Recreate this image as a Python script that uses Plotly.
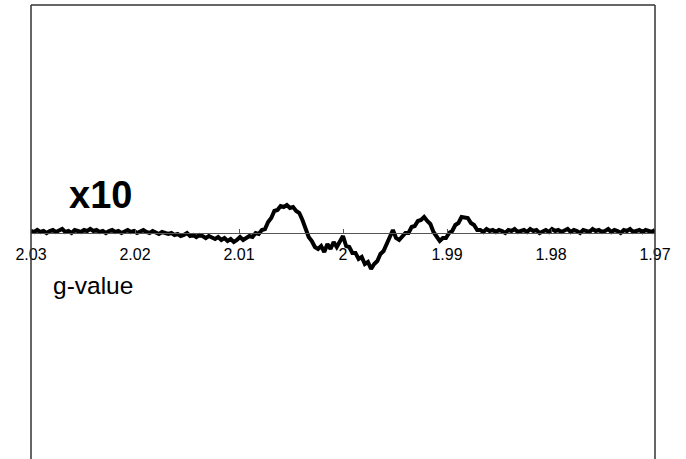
import numpy as np
import plotly.graph_objects as go

# EPR derivative signal (x10 gain), sampled uniformly from g = 2.03 down to g = 1.97
signal = [
    2, 1, 3, 1, 2, 0, 2, 3, 1, 2, 4, 1, 2, 0, 3, 2, 1, 3, 2, 4, 2, 3, 1,
    2, 0, 2, 3, 1, 2, 0, 1, 3, 1, 2, 0, 1, 3, 1, 0, 2, 1, -1, 1, 0, -1, 0,
    -2, -1, -3, -2, 0, -3, -2, -4, -2, -3, -5, -3, -4,
    -6, -4, -7, -5, -8, -6, -9, -7,
    -4, -7, -5, -3, -4, 0, -1, 3, 4, 11,
    15, 22, 23, 27, 26, 28, 25, 26, 22, 20,
    13, 5, -4, -8, -14, -16, -13, -19, -11, -16,
    -9, -14, -8, -3, -13, -14, -20, -20, -26, -24,
    -31, -29, -36, -31, -28, -21, -18, -10, -4, 3,
    -5, -7, -4, 0, 0, 6, 7, 12, 13, 16,
    12, 9, 1, -3, -8, -5, -5, 0, 2, 8,
    10, 16, 15, 15, 10, 8, 3,
    3, 1, 4, 2, 3, 1, 3, 2, 0, 3, 2, 4, 1, 2, 3, 1, 4, 2, 3, 0, 2, 3, 1,
    4, 2, 3, 1, 2, 4, 1, 3, 2, 0, 3, 2, 1, 4, 2, 3, 1, 2, 4, 1, 3, 2, 0,
    3, 2, 4, 1, 2, 3, 1, 3, 2, 1, 3,
]
g_start, g_end = 2.03, 1.97
g_values = np.linspace(g_start, g_end, len(signal))

tick_vals = [2.03, 2.02, 2.01, 2.00, 1.99, 1.98, 1.97]
tick_text = ["2.03", "2.02", "2.01", "2", "1.99", "1.98", "1.97"]

y_low, y_high = -226, 228
zero_pos = (0 - y_low) / (y_high - y_low)

font_family = "Liberation Sans, Arial, Helvetica, sans-serif"

fig = go.Figure()
fig.add_trace(go.Scatter(
    x=g_values, y=signal, mode="lines",
    line=dict(color="black", width=4),
    showlegend=False, hoverinfo="skip",
))

fig.update_layout(
    width=686, height=459,
    margin=dict(l=31, r=31, t=5, b=0),
    paper_bgcolor="white", plot_bgcolor="white",
    font=dict(family=font_family, color="black"),
    xaxis=dict(
        range=[g_start, g_end],
        tickvals=tick_vals, ticktext=tick_text,
        showgrid=False, zeroline=False,
        showline=True, linecolor="#555", linewidth=1,
        ticks="inside", ticklen=4, tickcolor="#555", tickwidth=1,
        ticklabelstandoff=7,
        tickfont=dict(size=16, color="black", family=font_family),
        anchor="free", position=zero_pos,
    ),
    yaxis=dict(range=[y_low, y_high], visible=False),
    shapes=[
        dict(type="line", xref="paper", yref="paper", x0=0, x1=0, y0=0, y1=1,
             line=dict(color="#333", width=1.5)),
        dict(type="line", xref="paper", yref="paper", x0=1, x1=1, y0=0, y1=1,
             line=dict(color="#333", width=1.5)),
        dict(type="line", xref="paper", yref="paper", x0=0, x1=1, y0=1, y1=1,
             line=dict(color="#333", width=1.5)),
    ],
    annotations=[
        dict(text="<b>x10</b>", xref="paper", yref="paper",
             x=0.057, y=0.5815, xanchor="left", yanchor="middle",
             showarrow=False, font=dict(size=38, color="black", family=font_family)),
        dict(text="g-value", xref="paper", yref="paper",
             x=0.032, y=0.383, xanchor="left", yanchor="middle",
             showarrow=False, font=dict(size=24.5, color="black", family=font_family)),
    ],
)

fig.write_html("out.html")
